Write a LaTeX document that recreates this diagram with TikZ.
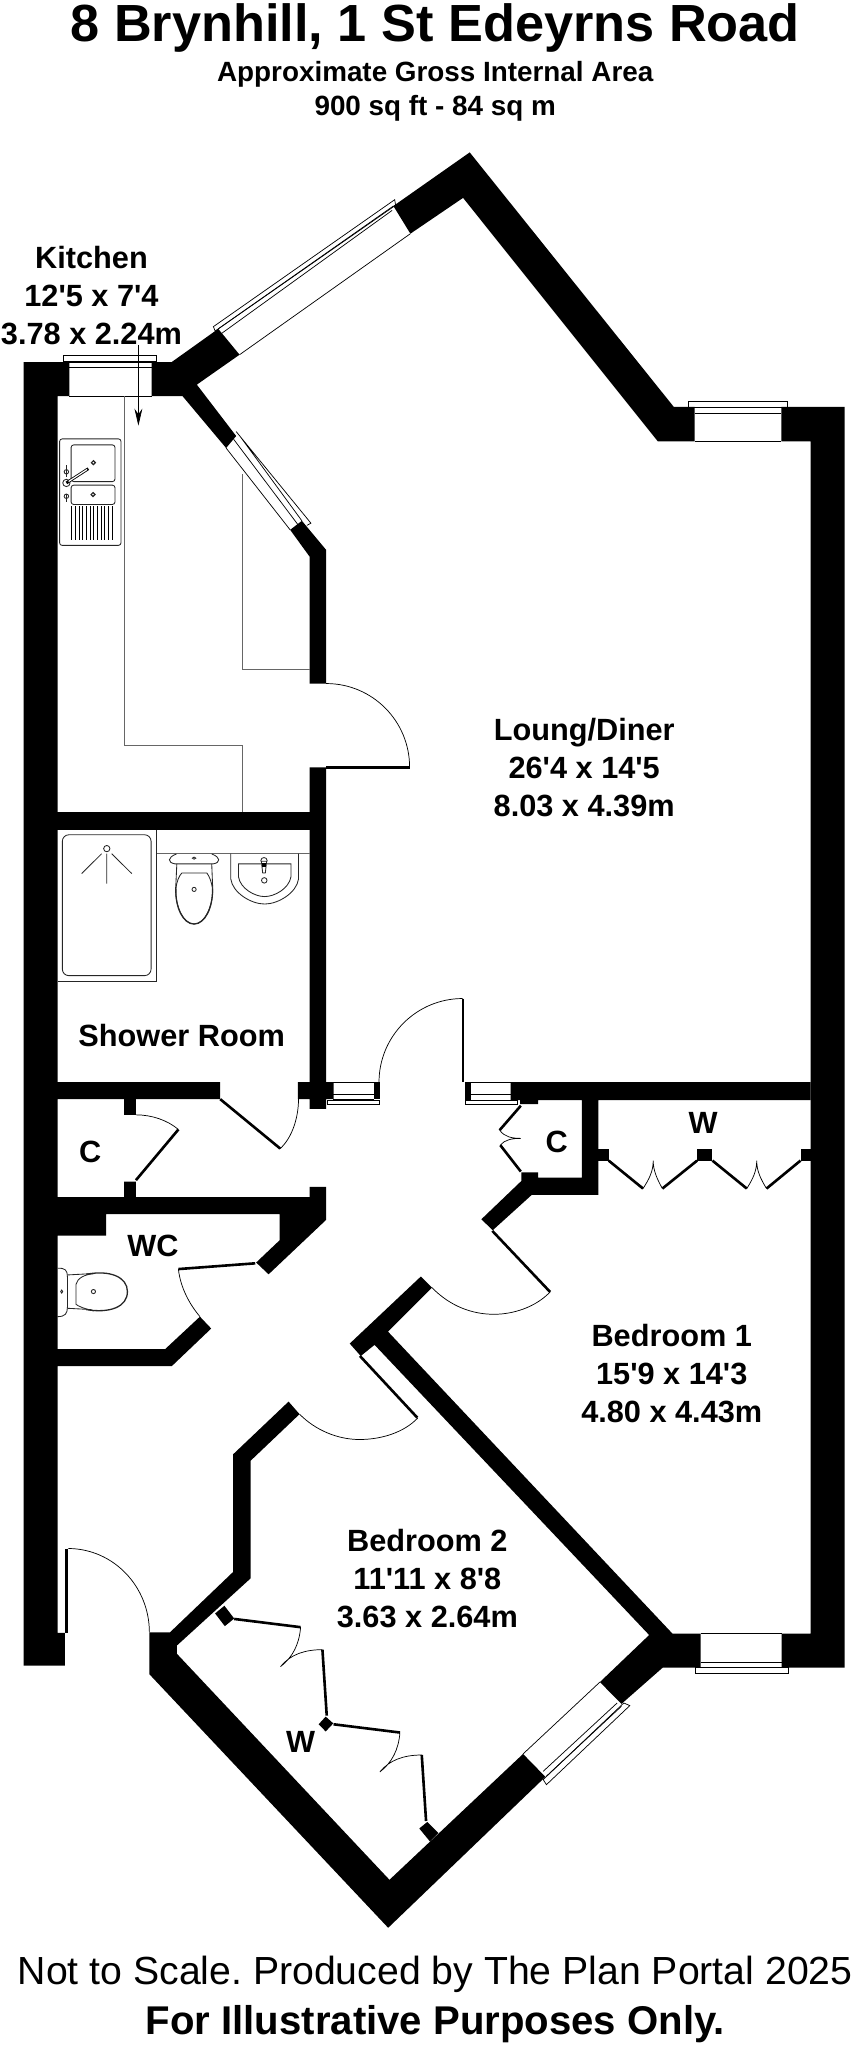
\documentclass[tikz,border=0pt]{standalone}
\usepackage{fontspec}
\setmainfont{Liberation Sans}
\usepackage{tikz}
\usetikzlibrary{arrows,arrows.meta,calc,positioning}
\frenchspacing
\newcommand{\ft}{\textquotesingle}
\tikzset{
>=stealth',
  wall part/.style={fill=black, draw=none},
  thin line/.style={draw=black, line width=0.55pt},
  fitting/.style={draw=black!85, line width=0.65pt},
  counter line/.style={draw=black!60, line width=0.6pt},
  door leaf/.style={draw=black, line width=2pt},
  door swing/.style={draw=black, line width=0.55pt},
  room label/.style={font=\fontsize{23.5}{29}\selectfont\bfseries, align=center, inner sep=0pt},
}
\begin{document}
\begin{tikzpicture}[
    x=1pt, y=-1pt,
    pointer/.style={thin line, -{Stealth[length=13pt,width=6pt]}},
    every node/.style={color=black}
    ]
    \useasboundingbox (0,0) rectangle (653,1567);

    % headings
    \node[inner sep=0pt, anchor=base, font=\fontsize{40}{48}\selectfont\bfseries] (title) at (333,32) {8 Brynhill, 1 St Edeyrns Road};
    \node[inner sep=0pt, font=\fontsize{21.3}{26}\selectfont\bfseries, align=center] (area) at (333,70)
         {Approximate Gross Internal Area\\[0.3pt]900 sq ft - 84 sq m};
    \node[inner sep=0pt, font=\fontsize{30}{36}\selectfont] (scale note) at (333,1511) {Not to Scale. Produced by The Plan Portal 2025};
    \node[inner sep=0pt, font=\fontsize{30.7}{36}\selectfont\bfseries] (only note) at (333,1549) {For Illustrative Purposes Only.};

    % room names
    \node[room label] (kitchen) at (70,226) {Kitchen\\12\ft5 x 7\ft4\\3.78 x 2.24m};
    \node[room label] (lounge) at (447,587) {Loung/Diner\\26\ft4 x 14\ft5\\8.03 x 4.39m};
    \node[room label] (shower) at (139,792) {Shower Room};
    \node[room label] (cupboard a) at (69,881) {C};
    \node[room label] (cupboard b) at (426,874) {C};
    \node[room label] (wc) at (117,953) {WC};
    \node[room label] (robe a) at (538,859) {W};
    \node[room label] (robe b) at (230,1333) {W};
    \node[room label] (bedroom a) at (514,1051) {Bedroom 1\\15\ft9 x 14\ft3\\4.80 x 4.43m};
    \node[room label] (bedroom b) at (327,1208) {Bedroom 2\\11\ft11 x 8\ft8\\3.63 x 2.64m};

    \coordinate (kitchen tip) at (105.9,325.7);
    \draw[pointer] (kitchen.south -| kitchen tip) -- (kitchen tip);

    % outer and inner walls
    \fill[wall part] (18,277) -- (53,277) -- (53,303) -- (44,303) -- (44,621.4) -- (236.9,621.4)
         -- (236.9,587.2) -- (249.6,587.2) -- (249.6,828) -- (255.2,828) -- (255.2,841) -- (249.6,841)
         -- (249.6,848.5) -- (236.9,848.5) -- (236.9,841) -- (228,841) -- (228,828) -- (236.9,828)
         -- (236.9,635) -- (44,635) -- (44,828) -- (168.5,828) -- (168.5,841) -- (104,841) -- (104,853)
         -- (95,853) -- (95,841) -- (44,841) -- (44,916) -- (95,916) -- (95,904) -- (104,904) -- (104,916)
         -- (236.9,916) -- (236.9,908.2) -- (249.6,908.2) -- (249.6,933.3) -- (205.5,975) -- (196,966)
         -- (213.9,949) -- (213.9,929) -- (81.2,929) -- (81.2,945.4) -- (44,945.4) -- (44,1032.3)
         -- (126.3,1032.3) -- (153,1007.4) -- (161.6,1016.5) -- (131.4,1045.3) -- (44,1045.3)
         -- (44,1249.4) -- (49.7,1249.4) -- (49.7,1274.4) -- (18,1274.4) -- cycle;
    \fill[wall part] (116,277) -- (131.4,277) -- (167,251.6) -- (183.3,271.4) -- (150.6,294.3)
         -- (180.7,333.6) -- (173,342.8) -- (139.6,303) -- (116,303) -- cycle;
    \fill[wall part] (222,405.4) -- (231,398.5) -- (249.6,420.8) -- (249.6,523) -- (236.9,523)
         -- (236.9,425.9) -- cycle;
    \fill[wall part] (301,157.6) -- (359.4,116.6) -- (515.6,311.4) -- (531.4,311.4) -- (531.4,337.7)
         -- (503.3,337.7) -- (354.3,151.4) -- (314,178.8) -- cycle;
    \fill[wall part] (597.8,311.4) -- (646.3,311.4) -- (646.3,1276) -- (598,1276) -- (598,1250)
         -- (620.2,1250) -- (620.2,337.7) -- (597.8,337.7) -- cycle;
    \fill[wall part] (390.7,828) -- (620.2,828) -- (620.2,841.7) -- (457.8,841.7) -- (457.8,914.2)
         -- (406.9,914.2) -- (377,941.3) -- (368.3,932.9) -- (399,903.5) -- (399,897) -- (411.7,897)
         -- (411.7,901) -- (445.2,901) -- (445.2,841.7) -- (411.7,841.7) -- (411.7,844.8) -- (398,844.8)
         -- (398,841.7) -- (390.7,841.7) -- cycle;
    \fill[wall part] (267.6,1028) -- (322,976.7) -- (330.5,985.2) -- (296.9,1018.9) -- (514.6,1250)
         -- (536,1250) -- (536,1276) -- (507,1276) -- (475.5,1303.7) -- (459,1287) -- (496.7,1251)
         -- (286.6,1029) -- (276,1037.5) -- cycle;
    \fill[wall part] (400.2,1342) -- (417.3,1359.5) -- (297,1475) -- (114.3,1281) -- (114.3,1249)
         -- (130,1249) -- (178.3,1202.8) -- (178.3,1112.8) -- (220.8,1072.4) -- (229.2,1082)
         -- (191.7,1117.7) -- (191.7,1207.7) -- (135.4,1259) -- (135.4,1265.4) -- (298,1438.3) -- cycle;
    \fill[wall part] (285.8,828) rectangle (290.5,841);
    \fill[wall part] (355.7,828) rectangle (360.5,841.7);

    % wardrobe posts
    \fill[wall part] (457.8,879) rectangle (465.7,888);
    \fill[wall part] (533.4,879) rectangle (545.1,888);
    \fill[wall part] (612.5,879) rectangle (620.2,888);
    \fill[wall part] (164.6,1234.5) -- (171.7,1228.6) -- (179.2,1238.4) -- (172,1244.2) -- cycle;
    \fill[wall part] (249.2,1313.4) -- (255,1318.6) -- (249.2,1324.8) -- (243.8,1319.3) -- cycle;
    \fill[wall part] (320.8,1399) -- (327,1394) -- (335.4,1402.4) -- (329,1409) -- cycle;

    % windows
    \draw[thin line] (48.5,272) rectangle (120,276.8);
    \draw[thin line] (53,281.3) -- (116,281.3) (53,303) -- (116,303) (53,277) -- (116,277);
    \draw[thin line] (163.3,249.9) -- (302,152.8) -- (302.7,157) -- (164.6,253.3) -- cycle;
    \draw[thin line] (167,251.6) -- (301,157.6) (169.7,255) -- (300,161) (183.3,271.4) -- (314,178.8);
    \draw[thin line] (180.7,330.2) -- (237.9,400.3) -- (234.8,402) (183.5,333.6) -- (231,398.5);
    \draw[thin line] (178.7,336) -- (228.4,402) (173,342.8) -- (222,405.4);
    \draw[thin line] (527,307.3) rectangle (602.3,311.4);
    \draw[thin line] (531.4,316.5) -- (597.8,316.5) (531.4,337.7) -- (597.8,337.7) (531.4,311.4) -- (597.8,311.4);
    \draw[thin line] (536,1250) -- (598,1250) (536,1272) -- (598,1272) (536,1276) -- (598,1276);
    \draw[thin line] (532,1276) rectangle (603,1280.4);
    \draw[thin line] (459,1287) -- (400.2,1342) (472.2,1303) -- (415.6,1355.3) (475.5,1305.5) -- (418.1,1359);
    \draw[thin line] (477.3,1303) -- (481.9,1305) -- (418.1,1365.5) -- (415.6,1361.6) -- cycle;
    \draw[thin line] (255,828) -- (285.8,828) (255,837.1) -- (285.8,837.1) (255,841) -- (285.8,841);
    \draw[thin line] (250.8,841.7) rectangle (290,845.3);
    \draw[thin line] (360.5,828) -- (390.7,828) (360.5,837.1) -- (390.7,837.1) (360.5,841.7) -- (390.7,841.7);
    \draw[thin line] (356.3,841.7) rectangle (395.7,845.3);

    % doors
    \draw[door leaf] (249.6,587) -- (313.4,587);
    \draw[door swing] (249.6,523) .. controls (285,523) and (313.4,551.7) .. (313.4,587);
    \draw[door leaf] (354.3,764) -- (354.3,828);
    \draw[door swing] (354,764) .. controls (318.7,764) and (290,792.7) .. (290,828);
    \draw[door leaf] (168.5,841) -- (214.4,878.8);
    \draw[door swing] (214.4,878.8) .. controls (223,871) and (228.4,856) .. (228.4,841);
    \draw[door leaf] (136.5,864.2) -- (104,903);
    \draw[door swing] (104,853) .. controls (116,853) and (128,857) .. (136.5,864.2);
    \draw[door leaf] (195.3,966.6) -- (136.5,971);
    \draw[door swing] (136.5,971) .. controls (138,985) and (145,998) .. (153,1007.4);
    \draw[door leaf] (376.7,941.8) -- (420.9,988.5);
    \draw[door swing] (330.5,985.2) .. controls (345,1000) and (362,1005.6) .. (378,1005.6)
         .. controls (393,1005.6) and (410,1000) .. (420.9,988.5);
    \draw[door leaf] (275.4,1037.5) -- (319.3,1084.7);
    \draw[door swing] (229.2,1082) .. controls (241,1094) and (258,1101.4) .. (275,1101.4)
         .. controls (292,1101.4) and (309,1096) .. (319.6,1085);
    \draw[door leaf, line width=2.6pt] (51,1184.8) -- (51,1249.4);
    \draw[door swing] (52.3,1184.8) .. controls (87,1185) and (114.3,1214) .. (114.3,1249);

    % folding wardrobe and cupboard doors
    \draw[door leaf] (398.5,846) -- (382.3,864.7);
    \draw[door swing] (382.3,864.7) .. controls (386,870) and (392,871) .. (398.5,871)
         .. controls (392,871) and (386,872) .. (382.8,876.2);
    \draw[door leaf] (382.8,876.2) -- (398.5,896.4);
    \foreach \xa/\xb/\xc/\xd/\xe in {465.7/492/499.8/506.8/533.4, 545.1/571.4/579/586.5/612.5} {
        \draw[door leaf] (\xa,888) -- (\xb,909.4);
        \draw[door leaf] (\xd,909.4) -- (\xe,888);
        \draw[door swing] (\xb,909.4) .. controls (\xc-3,902) and (\xc,896) .. (\xc,888)
             .. controls (\xc,896) and (\xc+3,902) .. (\xd,909.4);
    }
    \foreach \sx/\sy in {0/0, 76/80.6} {
        \begin{scope}[shift={(\sx,\sy)}]
        \draw[door leaf] (179.2,1238.7) -- (230,1245);
        \draw[door swing] (230,1245) .. controls (229,1258) and (224,1268) .. (214.6,1275.2)
             .. controls (222,1266) and (233,1262.2) .. (246.7,1262.2);
        \draw[door leaf] (246.7,1262.2) -- (250,1312.7);
        \end{scope}
    }

    % worktops
    \draw[counter line] (95,303) -- (95,570.5) -- (185.6,570.5) -- (185.6,621.4);
    \draw[counter line] (185.6,362.7) -- (185.6,512.4) -- (236.9,512.4);

    % kitchen sink
    \draw[fitting, rounded corners=2pt] (45.6,335.8) rectangle (92.6,417.3);
    \draw[fitting, rounded corners=2pt] (54.4,340.4) rectangle (88,368.5);
    \draw[fitting, rounded corners=2pt] (54.4,371.2) rectangle (88,386);
    \draw[fitting, line width=0.9pt] (71.5,354) circle (1.5) (71.2,378.4) circle (1.5);
    \draw[fitting] (50.8,369.5) circle (2.8) (50.8,361) circle (1.7) (50.8,379.7) circle (1.7);
    \draw[fitting, line width=0.9pt] (50.8,356) -- (50.8,365) (50.8,378) -- (50.8,384);
    \draw[draw=black, line width=2.2pt] (50.8,369.5) -- (67.6,358.6);
    \draw[draw=white, line width=0.9pt] (52.5,368.4) -- (66.6,359.2);
    \foreach \x in {55,57.8,...,88} {
        \draw[draw=black, line width=0.75pt] (\x,387.4) -- (\x,413.5);
    }

    % shower room fittings
    \draw[fitting] (44,750.7) -- (120,750.7) -- (120,635);
    \draw[fitting, rounded corners=5pt] (47.7,638.7) rectangle (115.6,746.5);
    \draw[fitting] (81.7,649.3) circle (2.4);
    \draw[fitting] (77.8,653.2) -- (62.5,668.4) (85.5,653.2) -- (100.8,668.4) (81.7,653.2) -- (81.7,676);
    \draw[counter line] (120,653.2) -- (236.9,653.2);
    \draw[fitting] (135,653.4) .. controls (128,656) and (128,660) .. (134,661) -- (163,661)
         .. controls (169,660) and (169,656) .. (162,653.4);
    \draw[fitting] (135.3,661) -- (134.6,676) .. controls (133,692) and (140,707) .. (148.5,707)
         .. controls (157,707) and (164,692) .. (162.6,676) -- (162,661);
    \draw[fitting, line width=1pt] (134.6,680) .. controls (134,694) and (140,707) .. (148.5,707)
         .. controls (157,707) and (163,694) .. (162.6,680);
    \draw[fitting] (134.6,680) .. controls (135,675) and (137,670) .. (139.1,668) -- (158.3,668)
         .. controls (160,670) and (162,675) .. (162.6,680);
    \draw[fitting] (148.5,680.5) circle (1.6);
    \draw[fitting] (148.5,656.6) ellipse (1.3 and 0.8);
    \draw[fitting] (176.6,653.2) -- (176.6,672.6) .. controls (178,683) and (192,691.7) .. (202.5,691.7)
         .. controls (213,691.7) and (227,683) .. (228.4,672.6) -- (228.4,653.2);
    \draw[fitting] (182.5,661) -- (182.5,671) .. controls (184,680) and (195,686) .. (202.5,686)
         .. controls (210,686) and (221,680) .. (222.6,671) -- (222.6,661) -- cycle;
    \draw[fill=white, fitting] (202,658.5) circle (2.4);
    \draw[fill=white, fitting] (200,659) -- (204,659) -- (203,668) -- (201,668) -- cycle;
    \fill[black] (200.8,660.5) rectangle (203.2,663);
    \draw[fitting] (202.2,673.6) circle (2.1);

    % wc fittings
    \draw[fitting] (44,970.4) .. controls (50,970) and (51.6,972) .. (51.6,977) -- (51.6,1000)
         .. controls (51.6,1005) and (50,1007.4) .. (44,1007.4);
    \draw[fitting] (47.2,988.2) ellipse (0.8 and 1.2);
    \draw[fitting] (51.6,975.5) -- (70,974.5);
    \draw[fitting] (51.6,1001) -- (70,1002);
    \draw[fitting, line width=1pt] (66,975) .. controls (84,971.5) and (97.5,977) .. (97.5,988.2)
         .. controls (97.5,1000) and (84,1005) .. (66,1002);
    \draw[fitting] (72,974.5) .. controls (65,975) and (59,978) .. (58.2,982.6) -- (58.2,998)
         .. controls (59,999) and (66,1002) .. (72,1003);
    \draw[fitting] (71.5,988.2) circle (1.6);
\end{tikzpicture}
\end{document}
